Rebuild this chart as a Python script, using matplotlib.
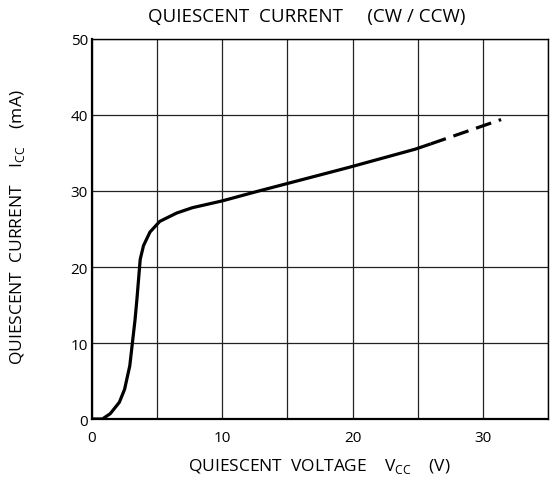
import matplotlib as mpl
mpl.use('Agg')
import matplotlib.pyplot as plt

# quiescent current vs supply voltage (CW / CCW)
v_solid = [0, 0.8, 1.4, 2.1, 2.5, 2.9, 3.1, 3.3, 3.45, 3.7, 3.95, 4.45, 5.2,
           6.5, 7.7, 10, 12.8, 19.7, 24.8, 26]
i_solid = [0, 0, 0.7, 2.2, 3.9, 7, 10, 13, 15.8, 21, 22.8, 24.6, 26.0,
           27.1, 27.8, 28.7, 30, 33.1, 35.5, 36.2]
v_dash = [26, 31.4]
i_dash = [36.2, 39.4]

x_ticks = [0, 10, 20, 30]
y_ticks = [0, 10, 20, 30, 40, 50]

plt.rcParams['font.family'] = ['Open Sans', 'DejaVu Sans']
plt.rcParams['mathtext.fontset'] = 'custom'
plt.rcParams['mathtext.rm'] = 'Open Sans'

fig = plt.figure(figsize=(5.5, 4.89), dpi=100)
ax = fig.add_axes([92 / 550, 1 - 420 / 489, 456 / 550, 380 / 489])

ax.set_xlim(0, 35)
ax.set_ylim(0, 50)
ax.set_xticks(range(0, 36, 5), minor=True)
ax.set_xticks(x_ticks)
ax.set_yticks(y_ticks)
ax.grid(True, which='both', axis='x', color='#222222', lw=0.9)
ax.grid(True, which='major', axis='y', color='#222222', lw=0.9)
ax.tick_params(which='both', length=0, labelsize=11)
ax.tick_params(axis='x', pad=8)
ax.tick_params(axis='y', pad=3)

for s in ['left', 'bottom']:
    ax.spines[s].set_linewidth(1.6)
for s in ['top', 'right']:
    ax.spines[s].set_linewidth(1.0)

ax.plot(v_solid, i_solid, color='black', lw=2.3, solid_capstyle='butt')
ax.plot(v_dash, i_dash, color='black', lw=2.3, linestyle=(0, (5, 2.5)),
        dash_capstyle='butt')

fig.text(307 / 550, 1 - 17 / 489, 'QUIESCENT  CURRENT     (CW / CCW)',
         ha='center', va='center', fontsize=13.5)
fig.text(319 / 550, 1 - 467 / 489,
         'QUIESCENT  VOLTAGE    V$_\\mathregular{CC}$    (V)',
         ha='center', va='center', fontsize=12.5)
fig.text(18 / 550, 1 - 227 / 489,
         'QUIESCENT  CURRENT    I$_\\mathregular{CC}$    (mA)',
         ha='center', va='center', rotation=90, fontsize=12.5)

fig.savefig('out.png', dpi=100)
